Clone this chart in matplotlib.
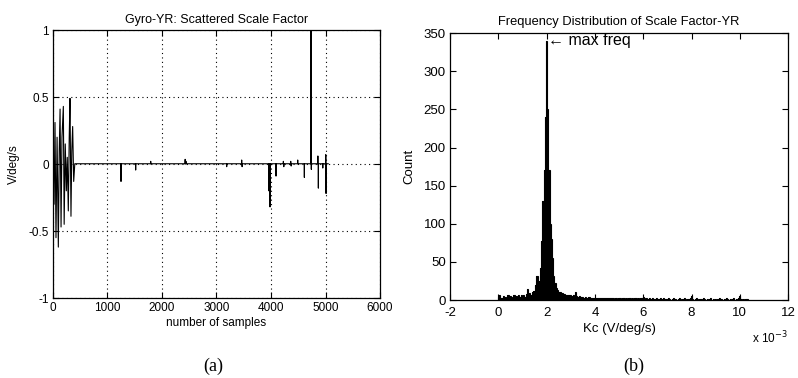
import matplotlib.pyplot as plt

# scattered scale factor of gyro YR and its frequency distribution

plt.rcParams['font.family'] = ['Liberation Sans', 'DejaVu Sans']
plt.rcParams['axes.unicode_minus'] = False

# (a) scale factor per sample, V/deg/s
base_level = 0.002
start_samples = [5, 20, 37, 55, 75, 98, 115, 130, 148, 165, 190, 205,
                 225, 245, 262, 281, 298, 312, 330, 345, 361, 380, 400]
start_values = [0.02, -0.3, 0.31, -0.55, 0.2, -0.62, 0.1, 0.41, -0.47, 0.2,
                0.43, -0.45, 0.15, -0.2, 0.05, -0.35, 0.2, 0.49, -0.39, 0.1,
                0.28, -0.13, 0.002]
spike_samples = [1248, 1517, 1793, 2425, 2440, 3187, 3462, 3470, 3960, 3982,
                 4092, 4227, 4235, 4362, 4370, 4490, 4612, 4734, 4740, 4860,
                 4869, 4950, 5005, 5010]
spike_values = [-0.13, -0.045, 0.02, 0.035, 0.02, -0.02, 0.03, -0.02, -0.2, -0.32,
                -0.09, 0.02, -0.02, 0.02, -0.015, 0.03, -0.1, 1.05, -0.04, 0.06,
                -0.18, -0.03, 0.07, -0.22]
last_sample = 5050

# (b) histogram of Kc, bin edges in units of 1e-3 V/deg/s
bin_start = -0.025
bin_width = 0.05
counts = [
    4, 6, 3, 2, 5, 3, 4, 2, 6, 3, 5, 4, 3, 6, 4, 5, 3, 7, 4, 6,
    5, 7, 4, 8, 14, 6, 9, 7, 10, 12, 12, 20, 32, 14, 25, 42, 78, 130, 170, 240,
    340, 250, 170, 100, 80, 55, 32, 22, 16, 13, 11, 10, 9, 9, 8, 8, 7, 7, 6, 6,
    6, 5, 6, 5, 10, 5, 4, 5, 4, 4, 4, 3, 4, 3, 3, 4, 3, 3, 2, 3,
    3, 2, 3, 2, 2, 3, 2, 2, 3, 2, 2, 2, 2, 3, 2, 2, 1, 2, 2, 1,
    2, 2, 1, 2, 2, 1, 2, 1, 2, 2, 1, 2, 1, 2, 2, 1, 2, 1, 2, 2,
    4, 2, 1, 2, 1, 2, 1, 1, 2, 1, 1, 2, 1, 1, 2, 0, 1, 2, 1, 1,
    1, 2, 1, 0, 1, 2, 1, 1, 0, 1, 2, 1, 0, 1, 3, 1, 0, 1, 1, 2,
    5, 1, 0, 1, 2, 1, 0, 1, 1, 0, 2, 1, 0, 1, 0, 1, 2, 0, 1, 0,
    1, 0, 1, 2, 0, 1, 0, 1, 0, 2, 1, 0, 1, 0, 1, 2, 0, 1, 0, 3,
    5, 1, 0, 1, 0, 1, 1,
]
max_freq_label = '\u2190 max freq'

# build the sample trace: oscillation at start, then spikes on the base level
xs = list(start_samples)
ys = list(start_values)
for s, v in zip(spike_samples, spike_values):
    xs += [s - 1, s, s + 1]
    ys += [base_level, v, base_level]
xs.append(last_sample)
ys.append(base_level)

edges = [bin_start + i * bin_width for i in range(len(counts) + 1)]

fig = plt.figure(figsize=(7.98, 3.78), dpi=100)


def matlab_box(ax, size):
    ax.tick_params(direction='in', top=True, right=True, length=4,
                   width=0.8, labelsize=size, pad=3)
    for sp in ax.spines.values():
        sp.set_linewidth(0.9)


# left panel
ax1 = fig.add_axes([0.0664, 0.2116, 0.4098, 0.709])
ax1.plot(xs, ys, color='black', lw=0.8)
ax1.set_xlim(0, 6000)
ax1.set_ylim(-1, 1)
ax1.set_xticks([0, 1000, 2000, 3000, 4000, 5000, 6000])
ax1.set_yticks([-1, -0.5, 0, 0.5, 1])
ax1.set_yticklabels(['-1', '-0.5', '0', '0.5', '1'])
ax1.grid(True, color='black', linestyle=(0, (1, 3)), linewidth=0.8)
matlab_box(ax1, 8.5)
ax1.set_title('Gyro-YR: Scattered Scale Factor', fontsize=9, pad=5)
ax1.set_xlabel('number of samples', fontsize=8.5, labelpad=2)
ax1.set_ylabel('V/deg/s', fontsize=8.5, labelpad=6)

# right panel
ax2 = fig.add_axes([0.564, 0.2063, 0.4236, 0.706])
ax2.stairs(counts, edges, fill=True, color='black', antialiased=False)
ax2.stairs(counts, edges, color='black', linewidth=0.8)
ax2.set_xlim(-2, 12)
ax2.set_ylim(0, 350)
ax2.set_xticks([-2, 0, 2, 4, 6, 8, 10, 12])
ax2.set_yticks([0, 50, 100, 150, 200, 250, 300, 350])
matlab_box(ax2, 9.5)
ax2.tick_params(axis='x', pad=5)
ax2.set_title('Frequency Distribution of Scale Factor-YR', fontsize=9.3, pad=6)
ax2.set_xlabel('Kc (V/deg/s)', fontsize=9.5, labelpad=3)
ax2.set_ylabel('Count', fontsize=9.5, labelpad=6)
peak = counts.index(max(counts))
ax2.text(edges[peak + 1] + 0.02, max(counts), max_freq_label, fontsize=11.5,
         ha='left', va='center')
ax2.text(1.0, -0.11, 'x 10$^{-3}$', transform=ax2.transAxes, fontsize=8.5,
         ha='right', va='top')

# sub captions
fig.text(0.267, 0.032, '(a)', family='Liberation Serif', fontsize=13,
         ha='center', va='center')
fig.text(0.794, 0.032, '(b)', family='Liberation Serif', fontsize=13,
         ha='center', va='center')

fig.savefig('out.png', dpi=100)
